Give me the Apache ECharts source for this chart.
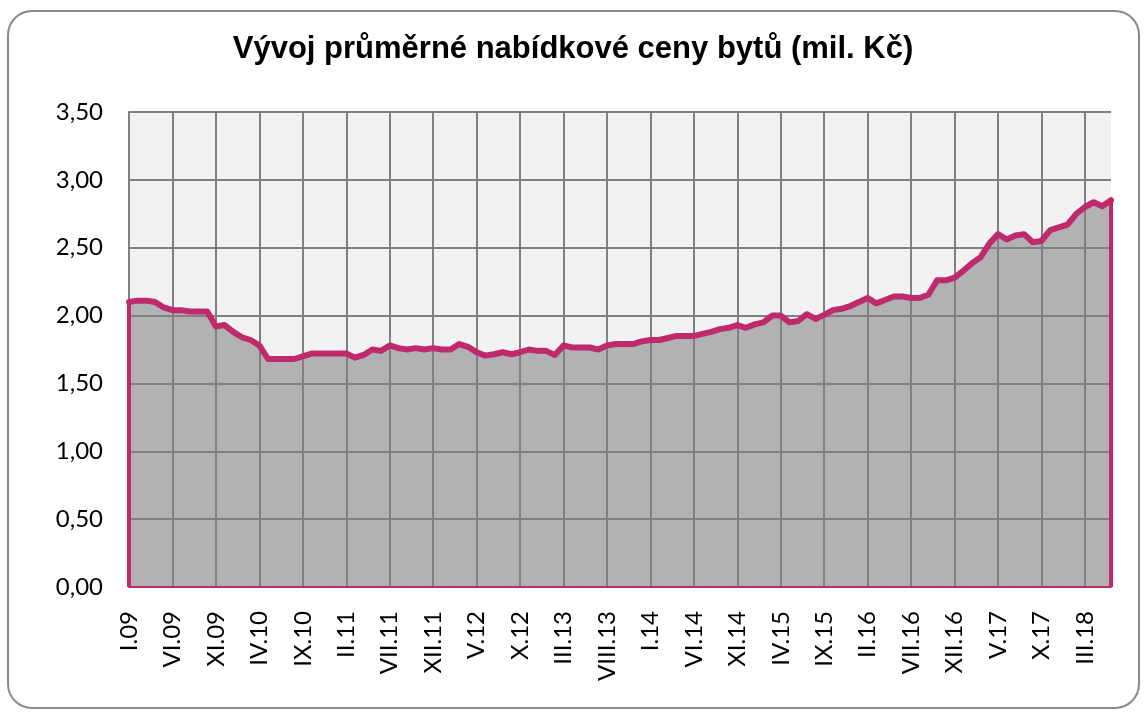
<!DOCTYPE html>
<html>
<head>
<meta charset="utf-8">
<script src="https://cdn.jsdelivr.net/npm/echarts@6/dist/echarts.min.js"></script>
<style>
html,body{margin:0;padding:0;background:#fff;}
#c{width:1146px;height:720px;}
</style>
</head>
<body>
<div id="c"></div>
<script>
// Month labels (Roman numerals) and years
const months = ['I','II','III','IV','V','VI','VII','VIII','IX','X','XI','XII'];
const years = ['09','10','11','12','13','14','15','16','17','18'];
const monthCount = 114; // I.09 .. VI.18
const categories = [];
for (let i = 0; i < monthCount; i++) {
  categories.push(months[i % 12] + '.' + years[Math.floor(i / 12)]);
}

// Average offer price of flats (mil. Kč)
const prices = [
  2.10, 2.11, 2.11, 2.10, 2.06, 2.04, 2.04, 2.03, 2.03, 2.03,
  1.92, 1.93, 1.88, 1.84, 1.82, 1.78, 1.68, 1.68, 1.68, 1.68,
  1.70, 1.72, 1.72, 1.72, 1.72, 1.72, 1.69, 1.71, 1.75, 1.74,
  1.78, 1.76, 1.75, 1.76, 1.75, 1.76, 1.75, 1.75, 1.79, 1.77,
  1.73, 1.705, 1.715, 1.73, 1.715, 1.73, 1.75, 1.74, 1.74, 1.71,
  1.78, 1.765, 1.765, 1.765, 1.75, 1.78, 1.79, 1.79, 1.79, 1.81,
  1.82, 1.82, 1.835, 1.85, 1.85, 1.85, 1.865, 1.88, 1.90, 1.91,
  1.93, 1.91, 1.935, 1.95, 2.00, 2.00, 1.95, 1.96, 2.01, 1.975,
  2.005, 2.04, 2.05, 2.07, 2.10, 2.13, 2.09, 2.115, 2.14, 2.14,
  2.13, 2.13, 2.155, 2.26, 2.26, 2.28, 2.33, 2.385, 2.43, 2.53,
  2.60, 2.56, 2.59, 2.60, 2.54, 2.55, 2.63, 2.65, 2.67, 2.75,
  2.80, 2.835, 2.805, 2.85
];

const titleText = 'Vývoj průměrné nabídkové ceny bytů (mil. Kč)';
const LINE = '#BE2A6B';
const GRID = '#808080';
const first = categories[0], last = categories[categories.length - 1];

const chart = echarts.init(document.getElementById('c'));
chart.setOption({
  animation: false,
  backgroundColor: '#ffffff',
  graphic: [{
    type: 'rect', left: 7, top: 10, z: -10,
    shape: { width: 1131, height: 697, r: 24 },
    style: { fill: '#ffffff', stroke: '#8a8a8a', lineWidth: 2 }
  }],
  title: {
    text: titleText, left: 'center', top: 29,
    textStyle: { fontFamily: 'Liberation Sans', fontWeight: 'bold', fontSize: 31, color: '#000' }
  },
  grid: {
    left: 129, right: 35, top: 112, bottom: 133,
    show: true, backgroundColor: '#f2f2f2', borderWidth: 0
  },
  xAxis: {
    type: 'category', data: categories, boundaryGap: false, z: 2,
    axisLine: { show: true, lineStyle: { color: GRID, width: 2 } },
    axisTick: { show: false },
    axisLabel: { interval: 4, rotate: 90, margin: 24, fontFamily: 'Lato', fontSize: 24, color: '#000' },
    splitLine: { show: true, interval: 4, lineStyle: { color: GRID, width: 2 } }
  },
  yAxis: {
    type: 'value', min: 0, max: 3.5, interval: 0.5, z: 2,
    axisLine: { show: true, lineStyle: { color: GRID, width: 2 } },
    axisTick: { show: false },
    axisLabel: {
      margin: 26, fontFamily: 'Lato', fontSize: 24, color: '#000',
      formatter: v => v.toFixed(2).replace('.', ',')
    },
    splitLine: { show: true, lineStyle: { color: GRID, width: 2 } }
  },
  series: [
    {
      type: 'line', data: prices, symbol: 'none', z: 1,
      lineStyle: { width: 0 },
      areaStyle: { color: '#b2b2b2', opacity: 1 }
    },
    {
      type: 'line', data: prices, symbol: 'none', z: 3,
      lineStyle: { color: LINE, width: 6, join: 'round', cap: 'round' },
      markLine: {
        silent: true, symbol: 'none', animation: false,
        label: { show: false },
        lineStyle: { color: LINE, width: 4, type: 'solid' },
        data: [
          [{ coord: [first, 0] }, { coord: [first, prices[0]] }],
          [{ coord: [last, 0] }, { coord: [last, prices[prices.length - 1]] }],
          [{ coord: [first, 0], lineStyle: { width: 2, color: LINE, type: 'solid' } }, { coord: [last, 0] }]
        ]
      }
    }
  ]
});
</script>
</body>
</html>
